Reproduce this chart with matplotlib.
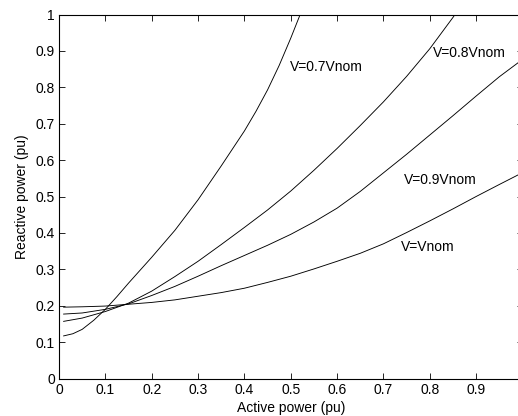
import matplotlib
matplotlib.use("Agg")
import matplotlib.pyplot as plt

plt.rcParams['font.family'] = ['Liberation Sans', 'DejaVu Sans']

# active power (pu) and reactive power (pu)
p_07 = [0.01, 0.03, 0.05, 0.075, 0.10, 0.125, 0.15, 0.20, 0.25, 0.30, 0.35, 0.40,
        0.425, 0.45, 0.475, 0.50, 0.525, 0.55]
q_07 = [0.117, 0.123, 0.135, 0.160, 0.190, 0.225, 0.262, 0.333, 0.407, 0.491, 0.584, 0.680,
        0.734, 0.793, 0.860, 0.935, 1.015, 1.10]

p_08 = [0.01, 0.05, 0.10, 0.15, 0.20, 0.25, 0.30, 0.35, 0.40, 0.45, 0.50,
        0.55, 0.60, 0.65, 0.70, 0.75, 0.80, 0.85, 0.90]
q_08 = [0.157, 0.166, 0.184, 0.207, 0.240, 0.280, 0.322, 0.368, 0.415, 0.463, 0.515,
        0.572, 0.632, 0.695, 0.760, 0.830, 0.906, 0.992, 1.085]

p_09 = [0.01, 0.05, 0.10, 0.15, 0.20, 0.25, 0.30, 0.35, 0.40, 0.45, 0.50,
        0.55, 0.60, 0.65, 0.70, 0.75, 0.80, 0.85, 0.90, 0.95, 0.99]
q_09 = [0.177, 0.180, 0.190, 0.205, 0.228, 0.253, 0.281, 0.310, 0.338, 0.366, 0.396,
        0.430, 0.468, 0.514, 0.565, 0.616, 0.669, 0.722, 0.776, 0.829, 0.867]

p_10 = [0.01, 0.05, 0.10, 0.15, 0.20, 0.25, 0.30, 0.35, 0.40, 0.45, 0.50,
        0.55, 0.60, 0.65, 0.70, 0.75, 0.80, 0.85, 0.90, 0.95, 0.99]
q_10 = [0.196, 0.197, 0.199, 0.204, 0.209, 0.216, 0.226, 0.236, 0.248, 0.264, 0.281,
        0.301, 0.322, 0.344, 0.370, 0.401, 0.433, 0.466, 0.500, 0.533, 0.559]

labels = ["V=0.7Vnom", "V=0.8Vnom", "V=0.9Vnom", "V=Vnom"]
xticks = [0, 0.1, 0.2, 0.3, 0.4, 0.5, 0.6, 0.7, 0.8, 0.9]
xticklabels = ["0", "0.1", "0.2", "0.3", "0.4", "0.5", "0.6", "0.7", "0.8", "0.9"]
yticks = [0, 0.1, 0.2, 0.3, 0.4, 0.5, 0.6, 0.7, 0.8, 0.9, 1]
yticklabels = ["0", "0.1", "0.2", "0.3", "0.4", "0.5", "0.6", "0.7", "0.8", "0.9", "1"]

fig = plt.figure(figsize=(5.18, 4.16), dpi=100)
# the picture is cut just left of the right-hand frame line
ax = fig.add_axes([59/518, 37.5/416, 463.5/518, 364/416])

for p, q in [(p_07, q_07), (p_08, q_08), (p_09, q_09), (p_10, q_10)]:
	ax.plot(p, q, color="black", lw=0.65)

# curve labels
ax.text(0.499, 0.855, labels[0], fontsize=10, va="center")
ax.text(0.807, 0.893, labels[1], fontsize=10, va="center")
ax.text(0.745, 0.545, labels[2], fontsize=10, va="center")
ax.text(0.738, 0.362, labels[3], fontsize=10, va="center")

ax.set_xlim(0, 1)
ax.set_ylim(0, 1)
ax.set_xticks(xticks)
ax.set_xticklabels(xticklabels)
ax.set_yticks(yticks)
ax.set_yticklabels(yticklabels)
ax.tick_params(direction="in", top=True, right=True, length=4, width=0.6, labelsize=10, pad=3)
for s in ax.spines.values():
	s.set_linewidth(0.8)

ax.set_xlabel("Active power (pu)", fontsize=10, labelpad=3)
ax.set_ylabel("Reactive power (pu)", fontsize=10, labelpad=5)

fig.savefig("out.png", dpi=100)
